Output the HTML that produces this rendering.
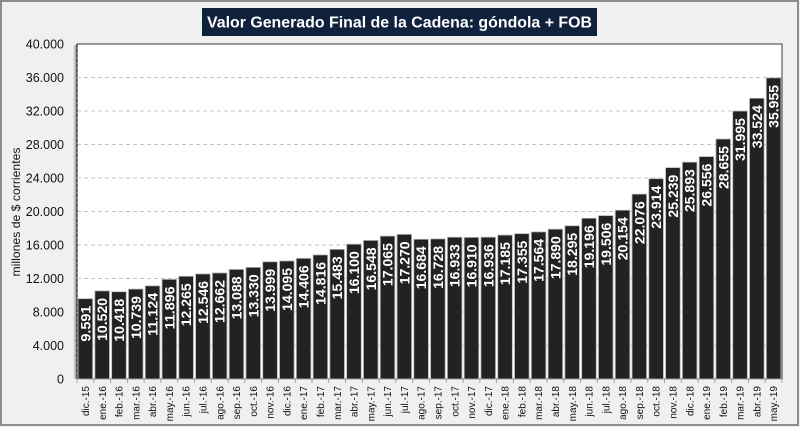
<!DOCTYPE html>
<html><head><meta charset="utf-8"><style>
html,body{margin:0;padding:0;background:#f0f0f0;}
svg{display:block;}
text{font-family:"Liberation Sans",Arial,sans-serif;}
</style></head><body>
<svg xmlns="http://www.w3.org/2000/svg" width="800" height="427" viewBox="0 0 800 427" id="c">
<defs>
<linearGradient id="sh" x1="0" x2="1" y1="0" y2="0">
<stop offset="0" stop-color="#f0f0f0"/><stop offset="1" stop-color="#8a8a8a"/>
</linearGradient>
</defs>
<rect x="0" y="0" width="800" height="427" fill="#f0f0f0"/>
<rect x="1" y="1" width="797" height="424" fill="none" stroke="#8c8c8c" stroke-width="2"/>
<rect x="202" y="8" width="395" height="28" fill="#0f213d"/>
<text x="399.5" y="27.5" fill="#fff" font-weight="bold" font-size="15.5" text-anchor="middle" textLength="385" lengthAdjust="spacingAndGlyphs">Valor Generado Final de la Cadena: góndola + FOB</text>
<rect x="73" y="45" width="4" height="334" fill="url(#sh)"/>
<rect x="77" y="44" width="705" height="335" fill="#fff" stroke="#3a3a3a" stroke-width="1"/>
<g id="grid" stroke="#c4c4c4" stroke-width="1" stroke-dasharray="4,3"></g>
<line x1="77" y1="44" x2="77" y2="379" stroke="#222" stroke-width="1.2" stroke-dasharray="3,2"/>
<g id="ylab" font-size="12.5" fill="#111" text-anchor="end"></g>
<text transform="translate(20,212) rotate(-90)" font-size="12" fill="#111" text-anchor="middle" textLength="129" lengthAdjust="spacingAndGlyphs">millones de $ corrientes</text>
<g id="ticks" stroke="#a8a8a8" stroke-width="1"></g>
<g id="bars"></g>
<g id="vals" font-size="14" font-weight="bold" fill="#fff" text-anchor="end"></g>
<g id="xl" font-size="10" fill="#111" text-anchor="end"></g>
</svg>
<script>
(function(){
var vals=[9591,10520,10418,10739,11124,11896,12265,12546,12662,13088,13330,13999,14095,14406,14816,15483,16100,16548,17065,17270,16684,16728,16933,16910,16936,17185,17355,17564,17890,18295,19196,19506,20154,22076,23914,25239,25893,26556,28655,31995,33524,35955];
var m=["ene.","feb.","mar.","abr.","may.","jun.","jul.","ago.","sep.","oct.","nov.","dic."];
var labs=["dic.-15"];
for(var yr=16;yr<=19;yr++){for(var k=0;k<12;k++){if(yr==19&&k>4)break;labs.push(m[k]+"-"+yr);}}
var NS="http://www.w3.org/2000/svg";
function el(t,a,txt){var e=document.createElementNS(NS,t);for(var q in a)e.setAttribute(q,a[q]);if(txt!=null)e.textContent=txt;return e;}
var x0=77,x1=782,yb=379,hh=335,n=42,p=(x1-x0)/n;
var g=document.getElementById("grid"),yl=document.getElementById("ylab");
for(var i=0;i<=10;i++){var yy=yb-i*hh/10;
 if(i>0&&i<10)g.appendChild(el("line",{x1:x0,y1:yy,x2:x1,y2:yy}));
 var s=i==0?"0":(i*4)+".000";
 yl.appendChild(el("text",{x:64,y:yy+4.5},s));}
var bars=document.getElementById("bars"),vg=document.getElementById("vals"),xl=document.getElementById("xl"),tk=document.getElementById("ticks");
for(var i=0;i<=n;i++){var tx=x0+i*p;tk.appendChild(el("line",{x1:tx,y1:yb,x2:tx,y2:yb+4}));}
for(var i=0;i<n;i++){
 var bx=x0+i*p+1.1,bw=p-2.2,bh=vals[i]/40000*hh,btop=yb-bh,cx=x0+i*p+p/2;
 bars.appendChild(el("rect",{x:bx,y:btop,width:bw,height:bh,fill:"#222",stroke:"#b8b8b8","stroke-width":0.8}));
 var v=vals[i],s=Math.floor(v/1000)+"."+String(v%1000).padStart(3,"0");
 var tl=s.length==5?36:43;
 vg.appendChild(el("text",{transform:"translate("+(cx+5)+","+(btop+7)+") rotate(-90)",textLength:tl,lengthAdjust:"spacingAndGlyphs"},s));
 xl.appendChild(el("text",{transform:"translate("+(cx+3.6)+",386) rotate(-90)"},labs[i]));
}
})();
</script>
</body></html>
